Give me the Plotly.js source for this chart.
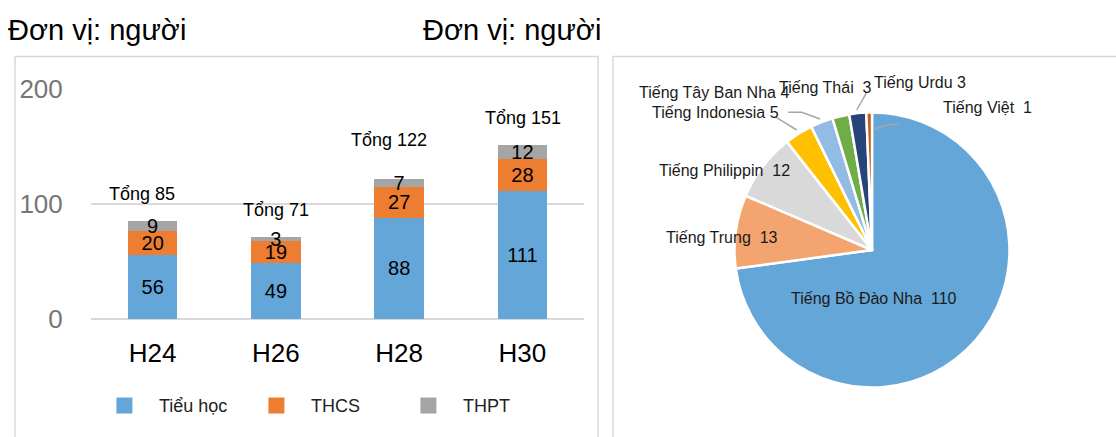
<!DOCTYPE html>
<html><head><meta charset="utf-8">
<script src="https://cdn.plot.ly/plotly-3.0.1.min.js"></script>
<style>html,body{margin:0;padding:0;background:#fff}</style>
</head><body>
<div id="chart" style="width:1116px;height:437px"></div>
<script>
// ---------- data ----------
const years = ['H24', 'H26', 'H28', 'H30'];
const tieuHoc = [56, 49, 88, 111];
const thcs = [20, 19, 27, 28];
const thpt = [9, 3, 7, 12];
const seriesNames = ['Tiểu học', 'THCS', 'THPT'];
const langs = ['Tiếng Bồ Đào Nha', 'Tiếng Trung', 'Tiếng Philippin', 'Tiếng Indonesia',
               'Tiếng Tây Ban Nha', 'Tiếng Thái', 'Tiếng Urdu', 'Tiếng Việt'];
const langCounts = [110, 13, 12, 5, 4, 3, 3, 1];
const unitLabel = 'Đơn vị: người';
const totalPrefix = 'Tổng';

// ---------- styles / layout helpers ----------
const W = 1116, H = 437;
const px = x => x / W;
const py = y => 1 - y / H;
const FONT = 'Liberation Sans, Arial, sans-serif';
const barColors = ['#65A6D8', '#ED7D31', '#A5A5A5'];
const pieColors = ['#65A6D8', '#F4A46E', '#D9D9D9', '#FFC000', '#92BCE3', '#70AD47', '#264478', '#C55A11'];

const stacks = [tieuHoc, thcs, thpt];
const totals = years.map((_, i) => stacks.reduce((s, arr) => s + arr[i], 0));

const traces = stacks.map((vals, i) => ({
  type: 'bar', x: years, y: vals, name: seriesNames[i],
  marker: {color: barColors[i]},
  text: vals.map(String), textposition: 'inside', insidetextanchor: 'middle',
  textangle: 0, constraintext: 'none', cliponaxis: false,
  textfont: {family: FONT, size: 20, color: '#000'},
  showlegend: false, hoverinfo: 'x+y+name'
}));
// legend entries (square swatches)
seriesNames.forEach((n, i) => traces.push({
  type: 'scatter', mode: 'markers', x: [null], y: [null], name: n,
  marker: {symbol: 'square', size: 16, color: barColors[i]},
  showlegend: true, hoverinfo: 'skip'
}));
traces.push({
  type: 'pie', labels: langs, values: langCounts, sort: false,
  direction: 'clockwise', rotation: 0,
  marker: {colors: pieColors, line: {color: '#ffffff', width: 2.5}},
  textinfo: 'none', hoverinfo: 'label+value', showlegend: false,
  domain: {x: [px(734.5), px(1009.5)], y: [py(387.5), py(112.5)]}
});

// label placements (pixel positions of the text, layout only)
const totalShiftX = [-11, 0, -10, 1];
const totalShiftY = [27, 27, 39, 27];
const pieLabelPos = [
  {x: 789, y: 298}, {x: 664, y: 237}, {x: 657, y: 170}, {x: 650, y: 113},
  {x: 637, y: 93}, {x: 777, y: 87}, {x: 872, y: 83}, {x: 941, y: 108}
];
const pieLabelSep = ['\u00a0 ', '\u00a0 ', '\u00a0 ', ' ', ' ', '\u00a0 ', ' ', '\u00a0 '];
const leaderLines = [
  [[775, 116.7], [796.7, 130]],
  [[788.3, 112.3], [801.7, 112.3], [820, 119]],
  [[856.7, 110], [866.7, 92.3]],
  [[873.3, 129.3], [886.7, 125], [898.3, 124.3]]
];

const annotations = [];
years.forEach((yr, i) => annotations.push({
  x: yr, y: totals[i], xref: 'x', yref: 'y', showarrow: false,
  text: totalPrefix + ' ' + totals[i], yanchor: 'middle',
  xshift: totalShiftX[i], yshift: totalShiftY[i],
  font: {family: FONT, size: 18, color: '#000'}
}));
annotations.push({
  x: px(421), y: py(30), xref: 'paper', yref: 'paper', xanchor: 'left', yanchor: 'middle',
  showarrow: false, text: unitLabel, font: {family: FONT, size: 29, color: '#000'}
});
langs.forEach((l, i) => annotations.push({
  x: px(pieLabelPos[i].x), y: py(pieLabelPos[i].y), xref: 'paper', yref: 'paper',
  xanchor: 'left', yanchor: 'middle', showarrow: false,
  text: l + pieLabelSep[i] + langCounts[i],
  font: {family: FONT, size: 16, color: '#1a1a1a'}
}));

const shapes = [
  {type: 'rect', xref: 'paper', yref: 'paper', x0: px(15), x1: px(598), y0: py(470), y1: py(56.5),
   line: {color: '#D9D9D9', width: 1.5}, layer: 'below'},
  {type: 'rect', xref: 'paper', yref: 'paper', x0: px(613), x1: px(1140), y0: py(470), y1: py(56.5),
   line: {color: '#D9D9D9', width: 1.5}, layer: 'below'}
];
leaderLines.forEach(pts => shapes.push({
  type: 'path', xref: 'paper', yref: 'paper',
  path: pts.map((p, k) => (k ? 'L' : 'M') + px(p[0]) + ',' + py(p[1])).join(' '),
  line: {color: '#A6A6A6', width: 1.5}
}));

const layout = {
  width: W, height: H, margin: {l: 0, r: 0, t: 0, b: 0},
  paper_bgcolor: '#fff', plot_bgcolor: 'rgba(0,0,0,0)',
  font: {family: FONT, color: '#000'},
  title: {text: unitLabel, x: px(8), xanchor: 'left', xref: 'paper',
          y: py(30), yref: 'paper', yanchor: 'middle', font: {family: FONT, size: 29, color: '#000'}},
  barmode: 'stack', bargap: 0.6,
  xaxis: {domain: [px(91), px(584)], type: 'category', showgrid: false, showline: false, zeroline: false,
          ticks: 'outside', ticklen: 11, tickcolor: 'rgba(0,0,0,0)',
          tickfont: {family: FONT, size: 26, color: '#000'}, fixedrange: true},
  yaxis: {domain: [py(319), py(88.7)], range: [0, 200], dtick: 100, tick0: 0,
          showgrid: true, gridcolor: '#D9D9D9', gridwidth: 1.5,
          zeroline: true, zerolinecolor: '#D9D9D9', zerolinewidth: 1.5, showline: false,
          ticks: 'outside', ticklen: 22, tickcolor: 'rgba(0,0,0,0)',
          tickfont: {family: FONT, size: 26, color: '#767676'}, fixedrange: true},
  showlegend: true,
  legend: {orientation: 'h', x: px(89.9), xanchor: 'left', y: py(405.7), yanchor: 'middle',
           itemwidth: 59, entrywidth: 78, bgcolor: 'rgba(0,0,0,0)', traceorder: 'normal',
           font: {family: FONT, size: 18, color: '#222'}},
  annotations: annotations, shapes: shapes
};

Plotly.newPlot('chart', traces, layout, {displayModeBar: false, staticPlot: true});
</script>
</body></html>
